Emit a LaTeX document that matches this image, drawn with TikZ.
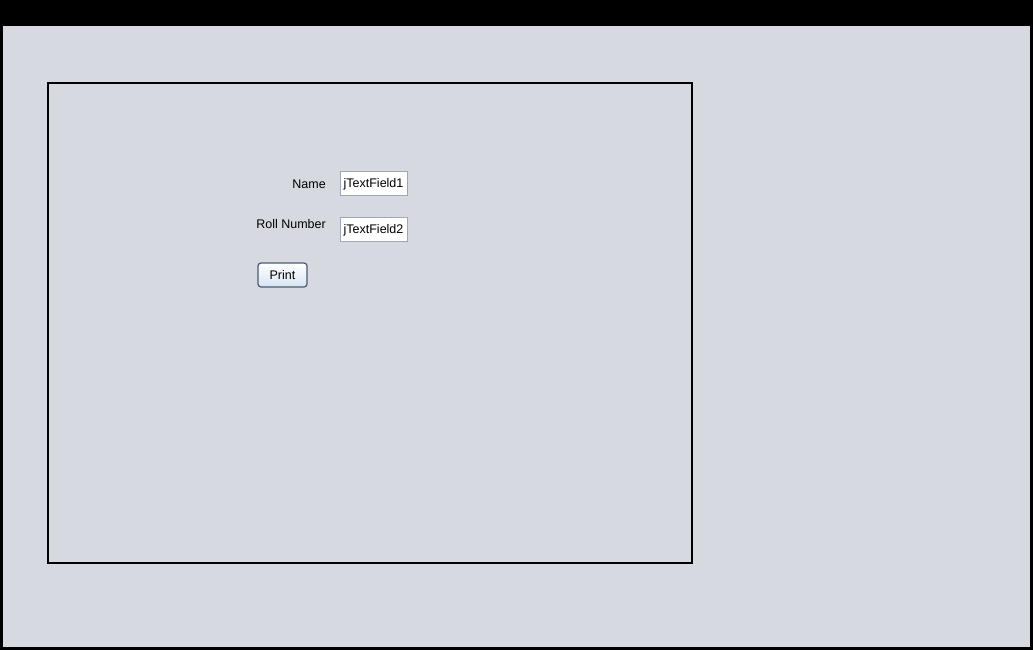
\documentclass[tikz,border=0pt]{standalone}
\usepackage{fontspec}
\setmainfont{Liberation Sans}
\definecolor{panelgrey}{RGB}{214,217,224}
\definecolor{fieldedge}{RGB}{160,168,184}
\definecolor{buttonedge}{RGB}{72,90,120}
\definecolor{buttonlow}{RGB}{214,228,242}
\tikzset{
    label/.style={anchor=east, inner sep=0pt, text height=9pt, text depth=0pt, font=\fontsize{12.5}{14}\selectfont},
    field/.style={draw=fieldedge, fill=white, minimum width=67pt, minimum height=24pt, inner sep=1pt, text height=9pt, text depth=0pt, font=\fontsize{12.5}{14}\selectfont},
    buttonbox/.style={draw=buttonedge, line width=1.2pt, rounded corners=3pt, top color=white, bottom color=buttonlow, minimum width=49pt, minimum height=24pt, inner sep=1pt, text height=9pt, text depth=0pt, font=\fontsize{12.5}{14}\selectfont}
}
\begin{document}
\begin{tikzpicture}[x=1pt,y=-1pt]
\useasboundingbox (0,0) rectangle (1033,650);
\fill[black] (0,0) rectangle (1033,650);
\fill[panelgrey] (3,26) rectangle (1030,647);

% form frame
\draw[black, line width=2pt] (48,83) rectangle (692,563);

\node[label] (namelabel) at (326,184) {Name};
\node[label] (rolllabel) at (326,224) {Roll Number};

\foreach \i/\y in {1/183,2/229}{
    \node[field] (field\i) at (373.5,\y) {jTextField\i};
}

\node[buttonbox] (print) at (282.5,275) {Print};

\end{tikzpicture}
\end{document}
